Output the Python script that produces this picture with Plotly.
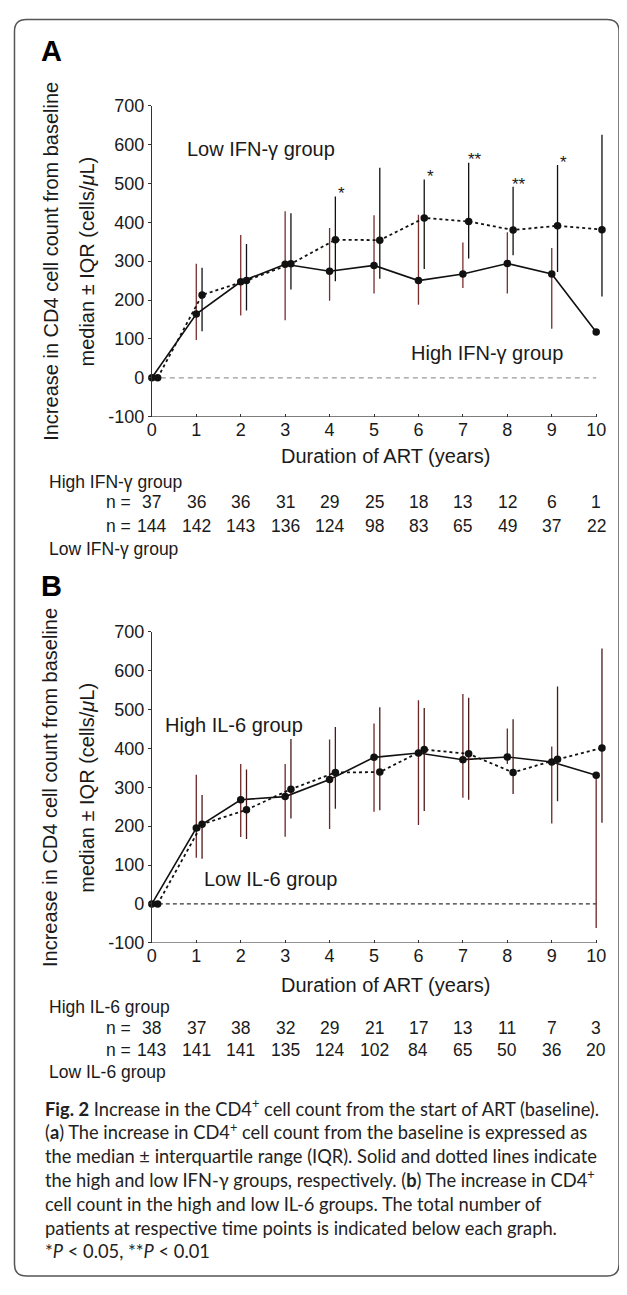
import plotly.graph_objects as go

# ---------------- data ----------------
years = [0, 1, 2, 3, 4, 5, 6, 7, 8, 9, 10]
x_ticks = [0, 1, 2, 3, 4, 5, 6, 7, 8, 9, 10]
y_ticks = [-100, 0, 100, 200, 300, 400, 500, 600, 700]
y_tick_labels = ["-100", "0", "100", "200", "300", "400", "500", "600", "700"]

# Panel A: IFN-gamma
ifn_high_med = [0, 164, 247, 292, 274, 289, 250, 267, 294, 267, 118]
ifn_high_q1 = [0, 97, 160, 148, 198, 217, 188, 231, 217, 126, 118]
ifn_high_q3 = [0, 293, 367, 428, 385, 418, 419, 348, 374, 334, 118]
ifn_low_med = [0, 213, 250, 293, 355, 354, 411, 402, 380, 391, 381]
ifn_low_q1 = [0, 120, 173, 227, 248, 255, 280, 307, 315, 272, 209]
ifn_low_q3 = [0, 283, 344, 423, 466, 540, 510, 553, 491, 547, 625]
ifn_sig = ["", "", "", "", "*", "", "*", "**", "**", "*", ""]
ifn_n_high = [37, 36, 36, 31, 29, 25, 18, 13, 12, 6, 1]
ifn_n_low = [144, 142, 143, 136, 124, 98, 83, 65, 49, 37, 22]

# Panel B: IL-6
il6_high_med = [0, 195, 268, 276, 320, 377, 388, 371, 378, 365, 331]
il6_high_q1 = [0, 119, 172, 173, 193, 237, 203, 273, 360, 207, -62]
il6_high_q3 = [0, 332, 360, 360, 423, 464, 524, 540, 451, 405, 335]
il6_low_med = [0, 205, 242, 295, 338, 339, 397, 386, 338, 372, 401]
il6_low_q1 = [0, 116, 167, 220, 245, 241, 239, 268, 283, 264, 209]
il6_low_q3 = [0, 280, 346, 424, 455, 506, 504, 530, 475, 559, 657]
il6_n_high = [38, 37, 38, 32, 29, 21, 17, 13, 11, 7, 3]
il6_n_low = [143, 141, 141, 135, 124, 102, 84, 65, 50, 36, 20]

caption_lines = [
    "<b>Fig. 2</b> Increase in the CD4<sup>+</sup> cell count from the start of ART (baseline).",
    "(<b>a</b>) The increase in CD4<sup>+</sup> cell count from the baseline is expressed as",
    "the median ± interquartile range (IQR). Solid and dotted lines indicate",
    "the high and low IFN-γ groups, respectively. (<b>b</b>) The increase in CD4<sup>+</sup>",
    "cell count in the high and low IL-6 groups. The total number of",
    "patients at respective time points is indicated below each graph.",
    "*<i>P</i> &lt; 0.05, **<i>P</i> &lt; 0.01",
]

# ---------------- geometry ----------------
PAGE_W, PAGE_H = 627, 1295
BODY = 8  # default page margin around the plot div
W, H = PAGE_W - 2 * BODY, PAGE_H - 2 * BODY
FONT = "Liberation Sans, Arial, Helvetica, sans-serif"
CAPFONT = "Lato, Roboto, sans-serif"
TXT = "#1a1a1a"


def px(x):
    return (x - BODY) / W


def py(y):
    return 1 - (y - BODY) / H


X0PX = 148.0
PX_PER_YEAR = 44.8
XMAX = 10.3
OFFSET = 0.13

panels = {
    "A": dict(top=97.0, bottom=413.0, label_y=42, title_y=453,
              grp_hi_y=479, n1_y=500, n2_y=524, grp_lo_y=547),
    "B": dict(top=631.5, bottom=947.5, label_y=585, title_y=990,
              grp_hi_y=1013, n1_y=1034, n2_y=1056, grp_lo_y=1079),
}

fig = go.Figure()
annotations = []
shapes = []


def ann(text, x, y, xref="paper", yref="paper", size=17, xanchor="center",
        yanchor="middle", family=FONT, color=TXT, **kw):
    d = dict(text=text, x=x, y=y, xref=xref, yref=yref, showarrow=False,
             xanchor=xanchor, yanchor=yanchor,
             font=dict(family=family, size=size, color=color))
    d.update(kw)
    annotations.append(d)


def add_panel(key, axn, hi_med, hi_q1, hi_q3, lo_med, lo_q1, lo_q3,
              hi_bar_col, lo_bar_col, zero_col, zero_dash,
              n_hi, n_lo, grp_hi_name, grp_lo_name, inplot_hi, inplot_lo,
              sig=None):
    g = panels[key]
    xa = "x" if axn == 1 else f"x{axn}"
    ya = "y" if axn == 1 else f"y{axn}"
    xl = "xaxis" if axn == 1 else f"xaxis{axn}"
    yl = "yaxis" if axn == 1 else f"yaxis{axn}"

    fig.update_layout(**{
        xl: dict(domain=[px(X0PX), px(X0PX + XMAX * PX_PER_YEAR)],
                 range=[0, XMAX], anchor=ya, showline=False, showgrid=False,
                 zeroline=False, ticks="inside", ticklen=3, tickwidth=1,
                 tickcolor="#333", tickvals=x_ticks,
                 tickfont=dict(family=FONT, size=18, color=TXT)),
        yl: dict(domain=[py(g["bottom"]), py(g["top"])],
                 range=[y_ticks[0], y_ticks[-1]], anchor=xa, showline=True,
                 linecolor="#333", linewidth=1, showgrid=False, zeroline=False,
                 ticks="outside", ticklen=3, tickcolor="#333",
                 tickvals=y_ticks, ticktext=y_tick_labels,
                 tickfont=dict(family=FONT, size=18, color=TXT)),
    })

    # x axis line from first to last tick
    shapes.append(dict(type="line", xref=xa, yref=ya, x0=x_ticks[0], x1=x_ticks[-1],
                       y0=y_ticks[0], y1=y_ticks[0], line=dict(color="#333", width=1)))

    # zero reference line
    fig.add_trace(go.Scatter(x=[x_ticks[0], x_ticks[-1]], y=[0, 0], mode="lines",
                             line=dict(color=zero_col, width=1.2, dash=zero_dash),
                             xaxis=xa, yaxis=ya, hoverinfo="skip", showlegend=False))

    hi_plus = [q3 - m for q3, m in zip(hi_q3, hi_med)]
    hi_minus = [m - q1 for q1, m in zip(hi_q1, hi_med)]
    lo_plus = [q3 - m for q3, m in zip(lo_q3, lo_med)]
    lo_minus = [m - q1 for q1, m in zip(lo_q1, lo_med)]
    lo_x = [y + OFFSET for y in years]

    fig.add_trace(go.Scatter(
        x=years, y=hi_med, mode="lines+markers", xaxis=xa, yaxis=ya,
        line=dict(color="#111", width=1.6),
        marker=dict(color="#111", size=7.5),
        error_y=dict(type="data", array=hi_plus, arrayminus=hi_minus,
                     color=hi_bar_col, thickness=1.3, width=0),
        cliponaxis=False, showlegend=False))
    fig.add_trace(go.Scatter(
        x=lo_x, y=lo_med, mode="lines+markers", xaxis=xa, yaxis=ya,
        line=dict(color="#111", width=1.8, dash="dot"),
        marker=dict(color="#111", size=7.5),
        error_y=dict(type="data", array=lo_plus, arrayminus=lo_minus,
                     color=lo_bar_col, thickness=1.3, width=0),
        cliponaxis=False, showlegend=False))

    # significance stars
    if sig is not None:
        for yr, s, q3 in zip(years, sig, lo_q3):
            if s:
                ann(s, yr + 0.27, q3 + 20, xref=xa, yref=ya, size=17, yshift=-5)

    # in-plot group labels
    for (txt, gx, gy) in (inplot_hi, inplot_lo):
        ann(txt, gx, gy, xref=xa, yref=ya, size=20, xanchor="left")

    # panel letter
    ann(f"<b>{key}</b>", px(47), py(g["label_y"]), size=29, color="#000")

    # y-axis title (two lines)
    yc = py((g["top"] + g["bottom"]) / 2)
    ann("Increase in CD4 cell count from baseline", px(46), yc, size=20, textangle=-90)
    ann("median ± IQR (cells/<i>μ</i>L)", px(83), yc, size=20, textangle=-90)

    # x-axis title
    ann("Duration of ART (years)", px(384), py(g["title_y"]), size=20)

    # n table
    ann(grp_hi_name, px(42), py(g["grp_hi_y"]), size=17.5, xanchor="left")
    ann(grp_lo_name, px(42), py(g["grp_lo_y"]), size=17.5, xanchor="left")
    for row_y, ns in ((g["n1_y"], n_hi), (g["n2_y"], n_lo)):
        ann("n =", px(129), py(row_y), size=17.5, xanchor="right")
        for yr, n in zip(years, ns):
            ann(str(n), yr, py(row_y), xref=xa, yref="paper", size=17.5)


add_panel("A", 1, ifn_high_med, ifn_high_q1, ifn_high_q3,
          ifn_low_med, ifn_low_q1, ifn_low_q3,
          hi_bar_col="#7a2e2e", lo_bar_col="#111111",
          zero_col="#9a9a9a", zero_dash="5px,4px",
          n_hi=ifn_n_high, n_lo=ifn_n_low,
          grp_hi_name="High IFN-γ group", grp_lo_name="Low IFN-γ group",
          inplot_hi=("High IFN-γ group", 5.78, 64),
          inplot_lo=("Low IFN-γ group", 0.74, 588),
          sig=ifn_sig)

add_panel("B", 2, il6_high_med, il6_high_q1, il6_high_q3,
          il6_low_med, il6_low_q1, il6_low_q3,
          hi_bar_col="#6e2626", lo_bar_col="#4a1a1a",
          zero_col="#333333", zero_dash="4px,3px",
          n_hi=il6_n_high, n_lo=il6_n_low,
          grp_hi_name="High IL-6 group", grp_lo_name="Low IL-6 group",
          inplot_hi=("High IL-6 group", 0.25, 459),
          inplot_lo=("Low IL-6 group", 1.12, 64))

# caption: one block, line spacing follows the font (1.3 em)
CAP_SIZE = 18.3
cap_first, n_lines = 1116, len(caption_lines)
cap_center = cap_first + (n_lines - 1) * 1.3 * CAP_SIZE / 2
ann("<br>".join(caption_lines), px(38), py(cap_center), size=CAP_SIZE,
    xanchor="left", family=CAPFONT, color="#222", align="left")

# rounded frame
L, R = px(9.5), px(619)
T, B = py(9.5), py(1286)
rx, ry = 12 / W, 12 / H
path = (f"M {L+rx},{T} L {R-rx},{T} Q {R},{T} {R},{T-ry} L {R},{B+ry} "
        f"Q {R},{B} {R-rx},{B} L {L+rx},{B} Q {L},{B} {L},{B+ry} "
        f"L {L},{T-ry} Q {L},{T} {L+rx},{T} Z")
shapes.append(dict(type="path", xref="paper", yref="paper", path=path,
                   line=dict(color="#555", width=1.5)))

fig.update_layout(width=W, height=H, autosize=False,
                  margin=dict(l=0, r=0, t=0, b=0),
                  paper_bgcolor="white", plot_bgcolor="white",
                  showlegend=False, annotations=annotations, shapes=shapes)

fig.write_html("out.html")
